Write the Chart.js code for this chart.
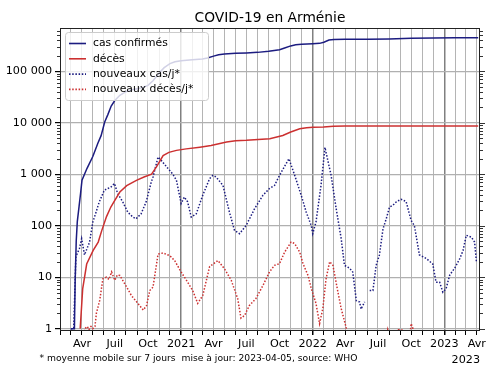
<!DOCTYPE html>
<html lang="fr">
<head>
<meta charset="utf-8">
<title>COVID-19 en Arménie</title>
<script src="https://cdn.jsdelivr.net/npm/chart.js@4/dist/chart.umd.min.js"></script>
<style>
  html, body { margin: 0; padding: 0; background: #fff; }
</style>
</head>
<body>
<canvas id="myChart" width="500" height="375"></canvas>
<script>
'use strict';

const titleText = 'COVID-19 en Arménie';
const footnote = '* moyenne mobile sur 7 jours  mise à jour: 2023-04-05, source: WHO';
const offsetLabel = '2023';
const seriesLabels = ['cas confirmés', 'décès', 'nouveaux cas/j*', 'nouveaux décès/j*'];
const monthLabels = ['', '', '', 'Avr', '', '', 'Juil', '', '', 'Oct', '', ''];
const yTickValues = [1, 10, 100, 1000, 10000, 100000];
const yTickLabels = ['1', '10', '100', '1 000', '10 000', '100 000'];
const xFirst = '2020-01-31';
const xLast = '2023-04-10';
const yMin = 0.9;
const yMax = 690000;

// cumulative confirmed cases
const totalCases = [
  ['2020-03-01', 1], ['2020-03-11', 1], ['2020-03-13', 8], ['2020-03-16', 50],
  ['2020-03-19', 120], ['2020-03-24', 240], ['2020-03-28', 420], ['2020-04-01', 760],
  ['2020-04-15', 1300], ['2020-05-01', 2200], ['2020-05-15', 4000], ['2020-05-24', 5600],
  ['2020-06-03', 10300], ['2020-06-12', 14500], ['2020-06-21', 21000], ['2020-07-01', 27000],
  ['2020-07-15', 34000], ['2020-08-01', 40000], ['2020-08-15', 43000], ['2020-09-01', 45500],
  ['2020-09-15', 48000], ['2020-10-01', 53000], ['2020-10-15', 65000], ['2020-11-01', 92000],
  ['2020-11-15', 117000], ['2020-12-01', 140000], ['2020-12-15', 152000], ['2021-01-01', 160000],
  ['2021-02-01', 167000], ['2021-03-01', 172000], ['2021-03-15', 180000], ['2021-04-01', 196000],
  ['2021-04-15', 208000], ['2021-05-01', 216000], ['2021-06-01', 222000], ['2021-07-01', 226000],
  ['2021-08-01', 232000], ['2021-09-01', 245000], ['2021-10-01', 262000], ['2021-10-15', 282000],
  ['2021-11-01', 310000], ['2021-11-15', 325000], ['2021-12-01', 333000], ['2022-01-01', 342000],
  ['2022-01-20', 347000], ['2022-02-01', 365000], ['2022-02-15', 402000], ['2022-03-01', 414000],
  ['2022-04-01', 418000], ['2022-06-01', 419000], ['2022-08-01', 424000], ['2022-10-01', 438000],
  ['2022-12-01', 443000], ['2023-02-01', 445000], ['2023-04-05', 446000],
];

// cumulative deaths
const totalDeaths = [
  ['2020-03-27', 1], ['2020-04-03', 6], ['2020-04-14', 18], ['2020-05-02', 33],
  ['2020-05-16', 48], ['2020-05-26', 81], ['2020-06-08', 150], ['2020-06-20', 230],
  ['2020-07-01', 310], ['2020-07-15', 450], ['2020-08-03', 600], ['2020-08-30', 760],
  ['2020-09-20', 880], ['2020-10-11', 1000], ['2020-10-25', 1400], ['2020-11-12', 2300],
  ['2020-11-28', 2650], ['2020-12-19', 2900], ['2021-01-15', 3100], ['2021-02-22', 3350],
  ['2021-03-25', 3600], ['2021-05-07', 4200], ['2021-06-01', 4450], ['2021-07-01', 4550],
  ['2021-09-04', 4900], ['2021-10-10', 5650], ['2021-11-01', 6600], ['2021-11-26', 7600],
  ['2021-12-15', 7950], ['2022-01-02', 8150], ['2022-01-31', 8250], ['2022-02-27', 8500],
  ['2022-04-01', 8600], ['2022-08-01', 8620], ['2023-04-05', 8630],
];

// new cases per day, 7 day average
const newCases = [
  ['2020-03-01', 1], ['2020-03-09', 1], ['2020-03-15', 25], ['2020-03-25', 36],
  ['2020-03-31', 56], ['2020-04-08', 27], ['2020-04-22', 48], ['2020-05-01', 117],
  ['2020-05-10', 183], ['2020-05-19', 290], ['2020-06-02', 490], ['2020-06-11', 525],
  ['2020-06-20', 560], ['2020-06-30', 660], ['2020-07-09', 420], ['2020-07-23', 290],
  ['2020-08-06', 183], ['2020-08-20', 147], ['2020-08-29', 136], ['2020-09-12', 170],
  ['2020-09-26', 290], ['2020-10-10', 700], ['2020-10-15', 880], ['2020-10-29', 2150],
  ['2020-11-07', 1850], ['2020-11-22', 1380], ['2020-12-09', 1000], ['2020-12-19', 760],
  ['2021-01-01', 270], ['2021-01-10', 360], ['2021-01-19', 290], ['2021-01-29', 147],
  ['2021-02-12', 170], ['2021-03-02', 390], ['2021-03-21', 820], ['2021-03-30', 950],
  ['2021-04-08', 880], ['2021-04-27', 605], ['2021-05-15', 183], ['2021-05-29', 81],
  ['2021-06-12', 70], ['2021-06-30', 100], ['2021-07-24', 215], ['2021-08-16', 390],
  ['2021-09-03', 525], ['2021-09-17', 605], ['2021-10-01', 950], ['2021-10-27', 2000],
  ['2021-11-12', 950], ['2021-11-30', 390], ['2021-12-14', 183], ['2021-12-28', 100],
  ['2022-01-01', 70], ['2022-01-10', 117], ['2022-01-24', 605], ['2022-02-04', 3300],
  ['2022-02-21', 950], ['2022-03-07', 215], ['2022-03-21', 56], ['2022-03-30', 17],
  ['2022-04-13', 15], ['2022-04-22', 12.6], ['2022-05-02', 3.5], ['2022-05-11', 3.3],
  ['2022-05-15', 2.4], ['2022-05-25', 3.3], ['2022-06-01', 0], ['2022-06-08', 5.5],
  ['2022-06-17', 5.5], ['2022-06-26', 17], ['2022-07-05', 27], ['2022-07-15', 87],
  ['2022-07-24', 136], ['2022-08-02', 230], ['2022-08-11', 247], ['2022-08-21', 290],
  ['2022-09-03', 325], ['2022-09-17', 295], ['2022-10-01', 126], ['2022-10-10', 100],
  ['2022-10-24', 27], ['2022-11-12', 23], ['2022-11-30', 18], ['2022-12-09', 8],
  ['2022-12-19', 8], ['2022-12-28', 5.1], ['2023-01-06', 6], ['2023-01-16', 11],
  ['2023-01-30', 15], ['2023-02-13', 23], ['2023-02-22', 33], ['2023-03-03', 65],
  ['2023-03-17', 60], ['2023-03-26', 48], ['2023-03-31', 20], ['2023-04-05', 0],
];

// new deaths per day, 7 day average
const newDeaths = [
  ['2020-04-05', 0.5], ['2020-04-09', 1], ['2020-04-16', 1.1], ['2020-04-20', 0.95],
  ['2020-04-26', 1.1], ['2020-05-01', 1], ['2020-05-07', 1.1], ['2020-05-11', 2],
  ['2020-05-20', 3.5], ['2020-05-29', 9.3], ['2020-06-08', 10], ['2020-06-15', 9],
  ['2020-06-22', 12.6], ['2020-07-01', 8.7], ['2020-07-08', 11], ['2020-07-15', 10.8],
  ['2020-08-03', 6.4], ['2020-08-16', 4.4], ['2020-09-08', 2.8], ['2020-09-18', 2.3],
  ['2020-09-27', 2.8], ['2020-10-06', 5.5], ['2020-10-15', 6.4], ['2020-10-29', 28],
  ['2020-11-12', 29.5], ['2020-12-01', 26], ['2020-12-14', 21], ['2021-01-01', 12.6],
  ['2021-01-19', 8], ['2021-02-02', 5.5], ['2021-02-16', 3.1], ['2021-03-02', 4.4],
  ['2021-03-21', 16], ['2021-04-13', 21], ['2021-05-01', 14.6], ['2021-05-20', 8.7],
  ['2021-06-07', 3.8], ['2021-06-16', 1.6], ['2021-06-26', 1.8], ['2021-07-09', 2.8],
  ['2021-07-27', 3.8], ['2021-08-16', 6.9], ['2021-09-03', 12.6], ['2021-09-17', 17],
  ['2021-10-01', 18.3], ['2021-10-15', 30.6], ['2021-11-02', 48], ['2021-11-12', 45],
  ['2021-11-26', 30.6], ['2021-12-05', 18.3], ['2021-12-19', 10.8], ['2021-12-28', 6],
  ['2022-01-10', 3.1], ['2022-01-20', 1.25], ['2022-01-29', 2.45], ['2022-02-07', 9.3],
  ['2022-02-17', 20], ['2022-02-26', 17], ['2022-03-12', 5.1], ['2022-03-21', 2.45],
  ['2022-04-03', 1.1], ['2022-04-12', 0.5], ['2022-07-20', 0.5], ['2022-07-28', 0.95],
  ['2022-08-05', 0.5], ['2022-08-22', 0.5], ['2022-08-27', 0.95], ['2022-09-05', 0.95],
  ['2022-09-10', 0.5], ['2022-09-25', 0.5], ['2022-10-01', 1.25], ['2022-10-06', 1.0],
  ['2022-10-12', 0.5], ['2023-03-20', 0.5], ['2023-03-28', 0.95], ['2023-04-05', 0.5],
];

const colors = { cases: '#1c1c80', deaths: '#cc3030' };

const DAY = 86400000;
const EPOCH = Date.UTC(2020, 0, 1);
function dayOf(s) {
  const [y, m, d] = s.split('-').map(Number);
  return (Date.UTC(y, m - 1, d) - EPOCH) / DAY;
}
function toPoints(rows) {
  return rows.map((r) => ({ x: dayOf(r[0]), y: r[1] }));
}

Chart.defaults.font.family = '"DejaVu Sans", sans-serif';
Chart.defaults.color = '#000';

const decorations = {
  id: 'decorations',
  afterDatasetsDraw(chart) {
    const { ctx, chartArea: a, scales: { y } } = chart;
    ctx.save();

    // log minor ticks, left and right, plus major ticks on the right
    ctx.strokeStyle = '#000';
    ctx.lineWidth = 0.8;
    for (let e = 0; e <= 5; e += 1) {
      for (let m = 1; m <= 9; m += 1) {
        const v = m * Math.pow(10, e);
        if (v < y.min || v > y.max) continue;
        const py = Math.round(y.getPixelForValue(v)) + 0.5;
        const len = m === 1 ? 5 : 3;
        ctx.beginPath();
        if (m !== 1) {
          ctx.moveTo(a.left - len, py);
          ctx.lineTo(a.left, py);
        }
        ctx.moveTo(a.right, py);
        ctx.lineTo(a.right + len, py);
        ctx.stroke();
      }
    }

    // frame
    ctx.lineWidth = 1;
    ctx.strokeStyle = '#222';
    ctx.strokeRect(a.left + 0.5, a.top + 0.5, a.right - a.left - 1, a.bottom - a.top - 1);

    // legend
    const lx = a.left + 5;
    const ly = a.top + 4;
    ctx.fillStyle = 'rgba(255,255,255,0.8)';
    ctx.strokeStyle = '#cccccc';
    ctx.beginPath();
    ctx.roundRect(lx + 0.5, ly + 0.5, 143, 68, 3);
    ctx.fill();
    ctx.stroke();
    ctx.font = '10.8px "DejaVu Sans"';
    ctx.textBaseline = 'middle';
    ctx.textAlign = 'left';
    chart.data.datasets.forEach((ds, i) => {
      const ry = ly + 11.5 + i * 15.3;
      ctx.strokeStyle = ds.borderColor;
      ctx.lineWidth = 1.6;
      ctx.setLineDash(ds.borderDash || []);
      ctx.beginPath();
      ctx.moveTo(lx + 4, ry);
      ctx.lineTo(lx + 21, ry);
      ctx.stroke();
      ctx.setLineDash([]);
      ctx.fillStyle = '#000';
      ctx.fillText(ds.label, lx + 28, ry);
    });
    ctx.restore();
  },
  afterDraw(chart) {
    const { ctx, chartArea: a } = chart;
    ctx.save();
    ctx.fillStyle = '#000';
    ctx.textBaseline = 'alphabetic';
    ctx.textAlign = 'center';
    ctx.font = '13.8px "DejaVu Sans"';
    ctx.fillText(titleText, (a.left + a.right) / 2, 21.7);
    ctx.textAlign = 'right';
    ctx.font = '11.2px "DejaVu Sans"';
    ctx.fillText(offsetLabel, a.right, 362.5);
    ctx.textAlign = 'left';
    ctx.font = '9.2px "DejaVu Sans"';
    ctx.fillText(footnote, 39.5, 360.5);
    ctx.restore();
  },
};

const lineStyle = { pointRadius: 0, borderWidth: 1.5, tension: 0, fill: false };
const dotted = [1.5, 1.7];

new Chart(document.getElementById('myChart'), {
  type: 'line',
  data: {
    datasets: [
      { ...lineStyle, label: seriesLabels[0], data: toPoints(totalCases), borderColor: colors.cases },
      { ...lineStyle, label: seriesLabels[1], data: toPoints(totalDeaths), borderColor: colors.deaths },
      { ...lineStyle, label: seriesLabels[2], data: toPoints(newCases), borderColor: colors.cases, borderDash: dotted },
      { ...lineStyle, label: seriesLabels[3], data: toPoints(newDeaths), borderColor: colors.deaths, borderDash: dotted },
    ],
  },
  options: {
    responsive: false,
    animation: false,
    devicePixelRatio: 1,
    layout: { padding: { top: 28, right: 20, left: 0, bottom: 0 } },
    plugins: { legend: { display: false }, title: { display: false }, tooltip: { enabled: false } },
    scales: {
      x: {
        type: 'linear',
        bounds: 'data',
        min: dayOf(xFirst),
        max: dayOf(xLast),
        afterFit(scale) { scale.height = 44; },
        afterBuildTicks(scale) {
          const ticks = [];
          for (let yr = 2020; yr <= 2023; yr += 1) {
            for (let m = 0; m < 12; m += 1) {
              const d = (Date.UTC(yr, m, 1) - EPOCH) / DAY;
              if (d >= scale.min && d <= scale.max) ticks.push({ value: d });
            }
          }
          scale.ticks = ticks;
        },
        ticks: {
          autoSkip: false,
          maxRotation: 0,
          padding: 2,
          font: { size: 11.2 },
          callback(value) {
            const dt = new Date(EPOCH + value * DAY);
            const m = dt.getUTCMonth();
            return m === 0 ? String(dt.getUTCFullYear()) : monthLabels[m];
          },
        },
        grid: {
          tickLength: 4,
          tickColor: '#000',
          color(c) {
            if (!c.tick) return '#b0b0b0';
            return new Date(EPOCH + c.tick.value * DAY).getUTCMonth() === 0 ? '#808080' : '#b4b4b4';
          },
          lineWidth(c) {
            if (!c.tick) return 1;
            return new Date(EPOCH + c.tick.value * DAY).getUTCMonth() === 0 ? 1.5 : 1;
          },
        },
        border: { display: false },
      },
      y: {
        type: 'logarithmic',
        bounds: 'data',
        min: yMin,
        max: yMax,
        afterFit(scale) { scale.width = 60; },
        afterBuildTicks(scale) {
          scale.ticks = yTickValues.map((v) => ({ value: v, major: true }));
        },
        ticks: {
          autoSkip: false,
          padding: 3,
          font: { size: 11.2 },
          callback(value) {
            const i = yTickValues.indexOf(value);
            return i >= 0 ? yTickLabels[i] : '';
          },
        },
        grid: { tickLength: 5, tickColor: '#000', color: '#b0b0b0', lineWidth: 1.2 },
        border: { display: false },
      },
    },
  },
  plugins: [decorations],
});
</script>
</body>
</html>
